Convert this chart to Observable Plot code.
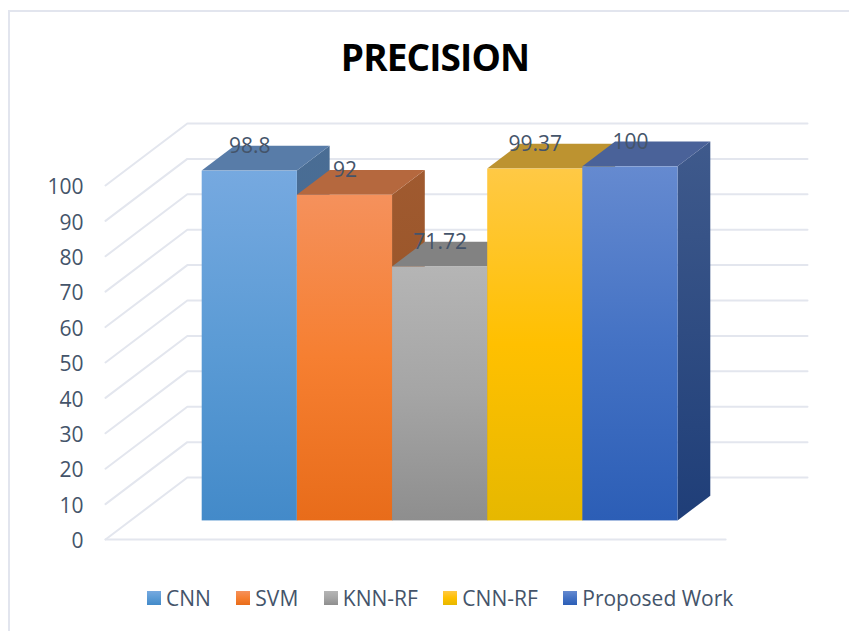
<!DOCTYPE html>
<html>
<head>
<meta charset="utf-8">
<script src="https://cdn.jsdelivr.net/npm/d3@7"></script>
<script src="https://cdn.jsdelivr.net/npm/@observablehq/plot@0.6"></script>
<style>
  html, body { margin: 0; background: #fff; }
  #page { position: relative; width: 849px; height: 631px; overflow: hidden;
          font-family: "Open Sans", sans-serif; color: #44546a; }
  #frame { position: absolute; left: 8px; top: 10px; width: 900px; height: 700px;
           border: 2px solid #e2e5ee; box-sizing: border-box; }
  #title { position: absolute; left: 0; right: 0; top: 33px; text-align: center; padding-left: 21px;
           font-size: 37px; letter-spacing: -0.9px; line-height: 48px; font-weight: 700; color: #000; }
  #chart { position: absolute; left: 0; top: 100px; }
  #chart svg { display: block; background: transparent; }
  #legend { position: absolute; top: 584px; left: 147px; display: flex; align-items: center;
            font-size: 21px; line-height: 28px; white-space: nowrap; }
  #legend span.item { display: flex; align-items: center; margin-right: 25.5px; }
  #legend i { display: block; width: 14px; height: 14px; margin-right: 5px; }
</style>
</head>
<body>
<div id="page">
  <div id="frame"></div>
  <div id="title">PRECISION</div>
  <div id="chart"></div>
  <div id="legend"></div>
</div>
<script>
// Precision per model
const models = ["CNN", "SVM", "KNN-RF", "CNN-RF", "Proposed Work"];
const precision = [98.8, 92, 71.72, 99.37, 100];
const yTicks = [0, 10, 20, 30, 40, 50, 60, 70, 80, 90, 100];

// Face colours per series: front gradient stops, top face, side face gradient stops
const frontStops = [
  ["#76a9e0", "#5b9bd5", "#438ac9"],
  ["#f5915c", "#f67f31", "#e86c1a"],
  ["#b5b5b5", "#a5a5a5", "#8e8e8e"],
  ["#ffc945", "#ffc000", "#e6b800"],
  ["#658ad0", "#4472c4", "#2c5eb6"]
];
const topFaces = ["#587ca8", "#b5683e", "#828282", "#bd9330", "#4a6299"];
const sideStops = [
  ["#4a6d94", "#3f6a98"],
  ["#a05a30", "#90501f"],
  ["#6f6f6f", "#5f5f5f"],
  ["#a07d20", "#8f7010"],
  ["#3f5a8c", "#1f3e78"]
];

// Oblique projection of the box: a point at depth d (0 front, 1 back) is shifted
// by d * depthX category widths and d * depthY value units.
const depthX = 0.86, depthY = 17.5;
const sideGap = 0.758;
const floorWidth = models.length + 2 * sideGap;
const barFront = 0.3, barBack = 0.7;
const px = (u, d) => u + d * depthX;
const py = (v, d) => v + d * depthY;

const grid = "#e3e6ee";
const marks = [];

// Defs holding the vertical gradients of the faces
marks.push(() => {
  const defs = d3.create("svg:defs");
  const addGradient = (id, stops) => {
    const g = defs.append("linearGradient").attr("id", id)
      .attr("x1", 0).attr("y1", 0).attr("x2", 0).attr("y2", 1);
    stops.forEach((c, i) => g.append("stop")
      .attr("offset", i / (stops.length - 1)).attr("stop-color", c));
  };
  frontStops.forEach((s, i) => addGradient(`front${i}`, s));
  sideStops.forEach((s, i) => addGradient(`side${i}`, s));
  return defs.node();
});

// Back wall, left wall and front floor rules
const gridStyle = {stroke: grid, strokeWidth: 2, curve: "linear"};
const wallRows = yTicks.flatMap((v) => [
  {v, u: 0, d: 0},
  {v, u: 0, d: 1},
  {v, u: floorWidth, d: 1}
]);
marks.push(Plot.line(wallRows, {x: (r) => px(r.u, r.d), y: (r) => py(r.v, r.d), z: "v", ...gridStyle}));
marks.push(Plot.line([{u: 0}, {u: floorWidth}], {x: (r) => px(r.u, 0), y: () => py(0, 0), ...gridStyle}));

// One box per model, painted left to right so each one overlaps its left neighbour
models.forEach((model, i) => {
  const value = precision[i];
  const u0 = sideGap + i, u1 = u0 + 1;
  const edge = [{u0, u1, value, model}];

  // Side face
  marks.push(Plot.area([{v: 0}, {v: value}], {
    x1: () => px(u1, barFront), y1: (r) => py(r.v, barFront),
    x2: () => px(u1, barBack), y2: (r) => py(r.v, barBack),
    fill: `url(#side${i})`
  }));
  // Top face
  marks.push(Plot.area([{u: u0}, {u: u1}], {
    x1: (r) => px(r.u, barFront), y1: () => py(value, barFront),
    x2: (r) => px(r.u, barBack), y2: () => py(value, barBack),
    fill: topFaces[i]
  }));
  // Front face
  marks.push(Plot.rect(edge, {
    x1: (r) => px(r.u0, barFront), x2: (r) => px(r.u1, barFront),
    y1: () => py(0, barFront), y2: (r) => py(r.value, barFront),
    fill: `url(#front${i})`
  }));
});

// Value labels sit at the back edge of each top face
marks.push(Plot.text(models.map((model, i) => ({model, i, value: precision[i]})), {
  x: (r) => px(sideGap + r.i + 0.5, barFront),
  y: (r) => py(r.value, barBack),
  text: (r) => String(r.value),
  fill: "#44546a", fontSize: 21, fontFamily: "Open Sans", textAnchor: "middle"
}));

// Value axis on the front plane
marks.push(Plot.axisY({
  ticks: yTicks, tickSize: 0, tickPadding: 22, anchor: "left", label: null,
  tickFormat: (d) => String(d), fill: "#44546a", fontSize: 21, fontFamily: "Open Sans", dy: 2
}));

const plot = Plot.plot({
  width: 849, height: 460,
  marginLeft: 105, marginRight: 42, marginTop: 23, marginBottom: 21,
  style: {background: "transparent", overflow: "visible"},
  x: {domain: [0, floorWidth + depthX], axis: null},
  y: {domain: [0, 100 + depthY], label: null},
  marks
});
document.getElementById("chart").append(plot);

// Legend with the same gradients as the front faces
const legend = d3.select("#legend");
models.forEach((model, i) => {
  const item = legend.append("span").attr("class", "item");
  item.append("i").style("background",
    `linear-gradient(${frontStops[i][0]}, ${frontStops[i][1]} 50%, ${frontStops[i][2]})`);
  item.append("span").text(model);
});
</script>
</body>
</html>
